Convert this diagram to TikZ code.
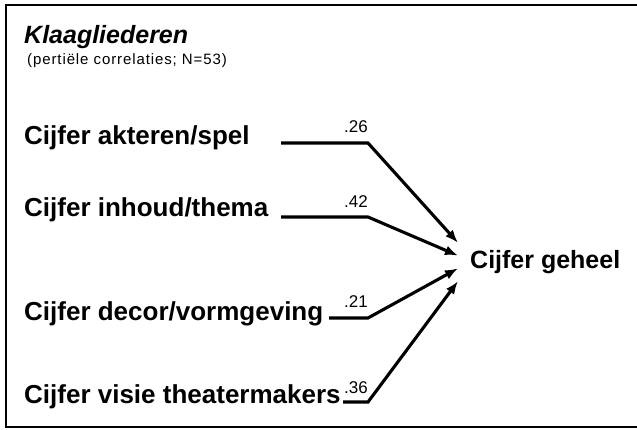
\documentclass[tikz,border=0pt]{standalone}
\usepackage{fontspec}
\setmainfont{Liberation Sans}
\newfontfamily\subfont[LetterSpace=6]{Liberation Sans}
\usetikzlibrary{arrows.meta,calc}

\begin{document}
\begin{tikzpicture}[x=1pt,y=-1pt,
  lab/.style={anchor=base west,inner sep=0pt,font=\fontsize{26}{30}\selectfont\bfseries},
  wt/.style={anchor=base east,inner sep=0pt,font=\fontsize{17}{20}\selectfont},
  pad/.style={line width=3.1pt,-{Latex[length=13pt,width=10pt]}}]
\useasboundingbox (0,0) rectangle (637,429);
\draw[line width=2.2pt] (637,5) -- (6,5) -- (6,427) -- (637,427);
\node[anchor=base west,inner sep=0pt,font=\fontsize{25}{30}\selectfont\bfseries\itshape] (titel) at (24,43) {Klaagliederen};
\node[anchor=base west,inner sep=0pt,font=\subfont\fontsize{15}{18}\selectfont] (sub) at (27,64) {(pertiële correlaties; N=53)};

\node[lab] (spel) at (24,144) {Cijfer akteren/spel};
\node[lab] (thema) at (24,216) {Cijfer inhoud/thema};
\node[lab] (decor) at (24,320) {Cijfer decor/vormgeving};
\node[lab] (visie) at (24,403) {Cijfer visie theatermakers};
\node[anchor=west,inner xsep=12pt,minimum height=38pt,font=\fontsize{25}{30}\selectfont\bfseries] (geheel) at (458,262) {Cijfer geheel};

% lijnen naar geheel
\coordinate (s1) at (281,143); \coordinate (b1) at (368,143);
\coordinate (s2) at (281,217); \coordinate (b2) at (368,217);
\coordinate (s3) at (329,318); \coordinate (b3) at (368,318);
\coordinate (s4) at (343,402); \coordinate (b4) at (368,402);
\draw[pad] (s1) -- (b1) -- (geheel.north west);
\draw[pad] (s2) -- (b2) -- ($(geheel.north west)!1/3!(geheel.south west)$);
\draw[pad] (s3) -- (b3) -- ($(geheel.north west)!2/3!(geheel.south west)$);
\draw[pad] (s4) -- (b4) -- (geheel.south west);

\node[wt] (w1) at (368,132) {.26};
\node[wt] (w2) at (368,207) {.42};
\node[wt] (w3) at (368,307) {.21};
\node[wt] (w4) at (368,393) {.36};
\end{tikzpicture}
\end{document}
